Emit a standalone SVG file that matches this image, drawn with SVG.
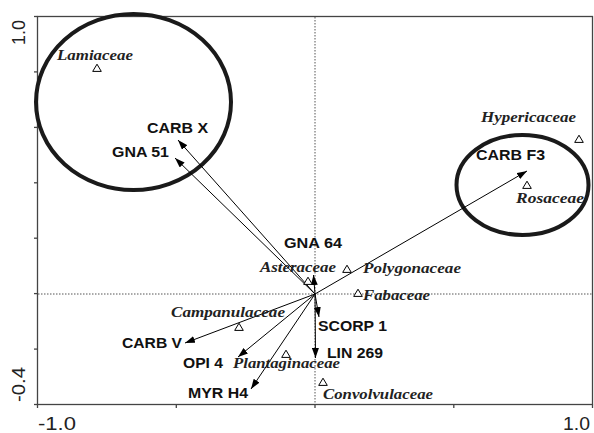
<svg xmlns="http://www.w3.org/2000/svg" xmlns:xlink="http://www.w3.org/1999/xlink" width="594" height="433" viewBox="0 0 594 433">
<style>
.frame{fill:none;stroke:#444;stroke-width:1.3}
.tick{stroke:#444;stroke-width:1.3}
.dot{stroke:#555;stroke-width:1;stroke-dasharray:1.5,1.5;fill:none}
.ax{font-family:"Liberation Sans",Arial,sans-serif;font-size:17.5px;fill:#222}
.var{font-family:"Liberation Sans",Arial,sans-serif;font-size:14px;font-weight:bold;fill:#111}
.sp{font-family:"Liberation Serif","Times New Roman",serif;font-size:14px;font-style:italic;font-weight:bold;fill:#222}
.arr{stroke:#000;stroke-width:1;fill:none;marker-end:url(#ah)}
.tri{fill:#fff;stroke:#000;stroke-width:1}
.ell{fill:none;stroke:#1a1a1a;stroke-width:4}
</style>
<defs>
<marker id="ah" markerUnits="userSpaceOnUse" markerWidth="10" markerHeight="7" refX="10" refY="3.5" orient="auto">
<path d="M0,0 L10,3.5 L0,7 Z" fill="#000"/>
</marker>
<path id="tri" class="tri" d="M0,-3.8 L4.3,3.4 L-4.3,3.4 Z"/>
</defs>
<rect width="594" height="433" fill="#fff"/>
<g id="axes">
<rect class="frame" x="37.5" y="16.5" width="555" height="388"/>
<g class="tick">
<line x1="34" y1="16.5" x2="37.5" y2="16.5"/>
<line x1="34" y1="71.9" x2="37.5" y2="71.9"/>
<line x1="34" y1="127.4" x2="37.5" y2="127.4"/>
<line x1="34" y1="182.8" x2="37.5" y2="182.8"/>
<line x1="34" y1="238.2" x2="37.5" y2="238.2"/>
<line x1="34" y1="293.6" x2="37.5" y2="293.6"/>
<line x1="34" y1="349.1" x2="37.5" y2="349.1"/>
<line x1="34" y1="404.5" x2="37.5" y2="404.5"/>
<line x1="37.5" y1="404.5" x2="37.5" y2="408"/>
<line x1="176.3" y1="404.5" x2="176.3" y2="408"/>
<line x1="315" y1="404.5" x2="315" y2="408"/>
<line x1="453.8" y1="404.5" x2="453.8" y2="408"/>
<line x1="592.5" y1="404.5" x2="592.5" y2="408"/>
</g>
<line class="dot" x1="315" y1="17" x2="315" y2="404"/>
<line class="dot" x1="38" y1="294" x2="592" y2="294"/>
<text class="ax" x="38" y="430" textLength="38" lengthAdjust="spacingAndGlyphs">-1.0</text>
<text class="ax" x="590" y="430" text-anchor="end" textLength="27" lengthAdjust="spacingAndGlyphs">1.0</text>
<text class="ax" transform="translate(25,45) rotate(-90)" x="0" y="0" textLength="25" lengthAdjust="spacingAndGlyphs">1.0</text>
<text class="ax" transform="translate(25,402) rotate(-90)" x="0" y="0" textLength="35" lengthAdjust="spacingAndGlyphs">-0.4</text>
</g>
<g id="groups">
<ellipse id="cluster-left" class="ell" cx="133.5" cy="102" rx="97.5" ry="88"/>
<ellipse id="cluster-right" class="ell" cx="522.5" cy="185" rx="66" ry="50"/>
</g>
<g id="connectors">
<line class="arr" x1="315" y1="294" x2="178" y2="140"/>
<line class="arr" x1="315" y1="294" x2="175" y2="158"/>
<line class="arr" x1="315" y1="294" x2="527" y2="171"/>
<line class="arr" x1="315" y1="294" x2="313.5" y2="275"/>
<line class="arr" x1="315" y1="294" x2="319" y2="317"/>
<line class="arr" x1="315" y1="294" x2="315.5" y2="358"/>
<line class="arr" x1="315" y1="294" x2="185" y2="343"/>
<line class="arr" x1="315" y1="294" x2="238" y2="357"/>
<line class="arr" x1="315" y1="294" x2="251" y2="389"/>
</g>
<g id="var-carbx"><text class="var" x="147" y="133" textLength="61" lengthAdjust="spacingAndGlyphs">CARB X</text></g>
<g id="var-gna51"><text class="var" x="112" y="157" textLength="57" lengthAdjust="spacingAndGlyphs">GNA 51</text></g>
<g id="var-carbf3"><text class="var" x="476" y="160" textLength="69" lengthAdjust="spacingAndGlyphs">CARB F3</text></g>
<g id="var-gna64"><text class="var" x="284" y="248" textLength="58" lengthAdjust="spacingAndGlyphs">GNA 64</text></g>
<g id="var-scorp1"><text class="var" x="318" y="331" textLength="69" lengthAdjust="spacingAndGlyphs">SCORP 1</text></g>
<g id="var-lin269"><text class="var" x="327" y="358" textLength="56" lengthAdjust="spacingAndGlyphs">LIN 269</text></g>
<g id="var-carbv"><text class="var" x="122" y="348" textLength="60" lengthAdjust="spacingAndGlyphs">CARB V</text></g>
<g id="var-opi4"><text class="var" x="183" y="368" textLength="40" lengthAdjust="spacingAndGlyphs">OPI 4</text></g>
<g id="var-myrh4"><text class="var" x="188" y="398" textLength="60" lengthAdjust="spacingAndGlyphs">MYR H4</text></g>
<g id="sp-lamiaceae"><use href="#tri" x="97" y="68"/><text class="sp" x="57" y="60" textLength="76" lengthAdjust="spacingAndGlyphs">Lamiaceae</text></g>
<g id="sp-hypericaceae"><use href="#tri" x="579" y="139"/><text class="sp" x="481" y="122" textLength="95" lengthAdjust="spacingAndGlyphs">Hypericaceae</text></g>
<g id="sp-rosaceae"><use href="#tri" x="527" y="185"/><text class="sp" x="516" y="203" textLength="68" lengthAdjust="spacingAndGlyphs">Rosaceae</text></g>
<g id="sp-asteraceae"><use href="#tri" x="308" y="281"/><text class="sp" x="260" y="272" textLength="76" lengthAdjust="spacingAndGlyphs">Asteraceae</text></g>
<g id="sp-polygonaceae"><use href="#tri" x="347" y="269"/><text class="sp" x="363" y="273" textLength="98" lengthAdjust="spacingAndGlyphs">Polygonaceae</text></g>
<g id="sp-fabaceae"><use href="#tri" x="358" y="293"/><text class="sp" x="363" y="300" textLength="67" lengthAdjust="spacingAndGlyphs">Fabaceae</text></g>
<g id="sp-campanulaceae"><use href="#tri" x="239" y="327"/><text class="sp" x="171" y="317" textLength="114" lengthAdjust="spacingAndGlyphs">Campanulaceae</text></g>
<g id="sp-plantaginaceae"><use href="#tri" x="286" y="354"/><text class="sp" x="233" y="368" textLength="107" lengthAdjust="spacingAndGlyphs">Plantaginaceae</text></g>
<g id="sp-convolvulaceae"><use href="#tri" x="323" y="382"/><text class="sp" x="323" y="399" textLength="110" lengthAdjust="spacingAndGlyphs">Convolvulaceae</text></g>
</svg>
